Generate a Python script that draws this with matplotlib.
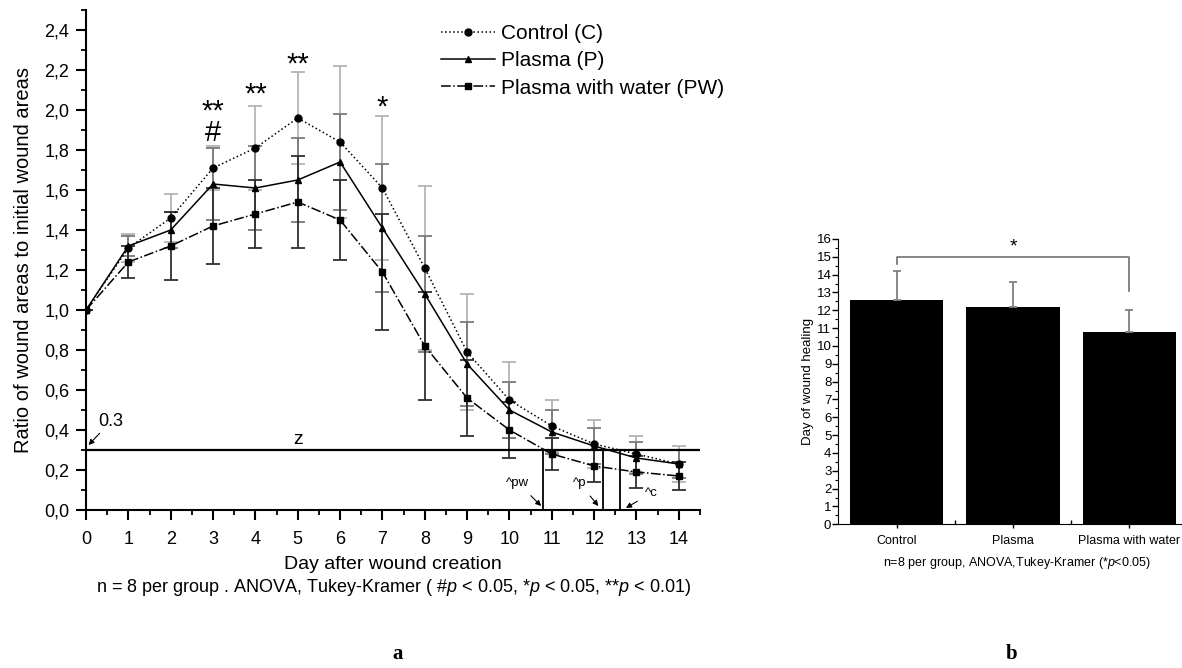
import matplotlib
matplotlib.use('Agg')
import matplotlib.pyplot as plt
from matplotlib.ticker import MultipleLocator, FuncFormatter, FixedLocator

plt.rcParams['font.family'] = ['Liberation Sans', 'DejaVu Sans']
plt.rcParams['mathtext.fontset'] = 'custom'
plt.rcParams['mathtext.it'] = 'Liberation Sans:italic'
plt.rcParams['mathtext.rm'] = 'Liberation Sans'

# ---------------- data ----------------
days = list(range(15))
control = [1.00, 1.31, 1.46, 1.71, 1.81, 1.96, 1.84, 1.61, 1.21, 0.79, 0.55, 0.42, 0.33, 0.28, 0.23]
control_err = [0, 0.07, 0.12, 0.11, 0.21, 0.23, 0.38, 0.36, 0.41, 0.29, 0.19, 0.13, 0.12, 0.09, 0.09]
plasma = [1.00, 1.32, 1.40, 1.63, 1.61, 1.65, 1.74, 1.41, 1.08, 0.73, 0.50, 0.39, 0.32, 0.26, 0.23]
plasma_err = [0, 0.05, 0.09, 0.18, 0.21, 0.21, 0.24, 0.32, 0.29, 0.21, 0.14, 0.11, 0.09, 0.08, 0.07]
pw = [1.00, 1.24, 1.32, 1.42, 1.48, 1.54, 1.45, 1.19, 0.82, 0.56, 0.40, 0.28, 0.22, 0.19, 0.17]
pw_err = [0, 0.08, 0.17, 0.19, 0.17, 0.23, 0.20, 0.29, 0.27, 0.19, 0.14, 0.08, 0.08, 0.08, 0.07]

threshold = 0.3
sig_days = [3, 4, 5, 7]
sig_labels = ['**\n#', '**', '**', '*']
sig_y = [2.0625, 2.1475, 2.2975, 2.0825]

groups = ['Control', 'Plasma', 'Plasma with water']
heal_days = [12.6, 12.2, 10.8]
heal_err = [1.6, 1.4, 1.2]
heal_tags = ['^c', '^p', '^pw']

# ---------------- figure ----------------
fig = plt.figure(figsize=(11.82, 6.68), dpi=100)

ax = fig.add_axes([86 / 1182, 1 - 510 / 668, 614 / 1182, 500 / 668])

series = [
    (control, control_err, ':', 'o', '#b4b4b4', 'Control (C)'),
    (plasma, plasma_err, '-', '^', '#7a7a7a', 'Plasma (P)'),
    (pw, pw_err, '-.', 's', '#303030', 'Plasma with water (PW)'),
]
handles = []
for vals, errs, ls, mk, ecol, lab in series:
    ax.errorbar(days, vals, yerr=errs, fmt='none', ecolor=ecol, elinewidth=1.3,
                capsize=5, capthick=1.3, zorder=2)
    h, = ax.plot(days, vals, linestyle=ls, marker=mk, color='black', lw=1.1,
                 markersize=5, zorder=3, label=lab)
    handles.append(h)

ax.set_xlim(0, 14.5)
ax.set_ylim(0, 2.5)
ax.xaxis.set_major_locator(MultipleLocator(1))
ax.xaxis.set_minor_locator(MultipleLocator(0.5))
ax.yaxis.set_major_locator(FixedLocator([0, 0.2, 0.4, 0.6, 0.8, 1.0, 1.2, 1.4, 1.6, 1.8, 2.0, 2.2, 2.4]))
ax.yaxis.set_minor_locator(MultipleLocator(0.1))
ax.yaxis.set_major_formatter(FuncFormatter(lambda v, p: f"{v:.1f}".replace('.', ',')))
for s in ['top', 'right']:
    ax.spines[s].set_visible(False)
for s in ['left', 'bottom']:
    ax.spines[s].set_linewidth(1.5)
ax.tick_params(which='major', length=7, width=1.5, labelsize=13, direction='out')
ax.tick_params(which='minor', length=3.5, width=1.3, direction='out')
ax.tick_params(axis='x', which='major', pad=8)
ax.tick_params(axis='y', which='major', pad=5)

ax.set_ylabel('Ratio of wound areas to initial wound areas', fontsize=14.5, labelpad=8)
ax.set_xlabel('Day after wound creation', fontsize=14, labelpad=6)

# threshold line
ax.axhline(threshold, xmin=0, xmax=1, color='black', lw=1.6, zorder=4)
ax.text(5, 0.35, 'z', fontsize=14, ha='center', va='center')
ax.annotate('0.3', xy=(0.06, 0.325), xytext=(0.28, 0.44), fontsize=13,
            ha='left', va='center',
            arrowprops=dict(arrowstyle='-|>', color='black', lw=0.8, mutation_scale=8,
                            shrinkA=0, shrinkB=0))

# healing day vertical lines and labels
for d in heal_days:
    ax.plot([d, d], [0, threshold], color='black', lw=1.3, zorder=4)
tag_pos = {'^pw': ((10.2, 0.135), (10.75, 0.02)),
           '^p': ((11.65, 0.135), (12.1, 0.02)),
           '^c': ((13.35, 0.085), (12.75, 0.01))}
for tag in heal_tags:
    txt, tip = tag_pos[tag]
    ax.annotate(tag, xy=tip, xytext=txt, fontsize=9.5, ha='center', va='center',
                arrowprops=dict(arrowstyle='-|>', color='black', lw=0.8, mutation_scale=8,
                                shrinkA=4, shrinkB=0))

# significance marks
for d, lab, yv in zip(sig_days, sig_labels, sig_y):
    ax.text(d, yv, lab, fontsize=21, ha='center', va='top', linespacing=0.69,
            multialignment='center')

fig.legend(handles=handles, loc='upper left', bbox_to_anchor=(441 / 1182, 1 - 24 / 668),
           frameon=False, fontsize=15, handlelength=2.6, handletextpad=0.3,
           labelspacing=0.4, numpoints=1, borderaxespad=0, borderpad=0)

fig.text(0.5 * (57 + 730) / 1182, 1 - 588 / 668,
         'n = 8 per group . ANOVA, Tukey-Kramer ( #$\\it{p}$ < 0.05, *$\\it{p}$ < 0.05, **$\\it{p}$ < 0.01)',
         fontsize=13, ha='center', va='center')

# ---------------- bar chart ----------------
ax2 = fig.add_axes([838.3 / 1182, 1 - 524.3 / 668, (1187.7 - 838.3) / 1182, 285.3 / 668])
xpos = list(range(len(groups)))
ax2.bar(xpos, heal_days, width=0.8, color='black', zorder=2)
ax2.errorbar(xpos, heal_days, yerr=[[0] * len(groups), heal_err], fmt='none',
             ecolor='#808080', elinewidth=1.3, capsize=3, capthick=1.3, zorder=3)
ax2.set_xlim(-0.5, 2.5)
ax2.set_ylim(0, 16)
ax2.yaxis.set_major_locator(MultipleLocator(1))
ax2.yaxis.set_minor_locator(MultipleLocator(0.5))
ax2.set_xticks(xpos)
ax2.set_xticklabels(groups, fontsize=9)
ax2.xaxis.set_minor_locator(FixedLocator([0.5, 1.5]))
for s in ['top', 'right']:
    ax2.spines[s].set_visible(False)
ax2.tick_params(axis='y', which='major', length=4, width=1, labelsize=9.5, pad=1)
ax2.tick_params(axis='y', which='minor', length=2, width=0.8)
ax2.tick_params(axis='x', which='major', length=3, width=1, pad=5)
ax2.tick_params(axis='x', which='minor', length=3, width=1, direction='in')
ax2.set_ylabel('Day of wound healing', fontsize=9.5, labelpad=2)

# significance bracket
ax2.plot([0, 0, 2, 2], [14.6, 15.0, 15.0, 13.1], color='#707070', lw=1.2, zorder=3)
ax2.text(1, 15.55, '*', fontsize=14, ha='center', va='center')

fig.text(1017 / 1182, 1 - 563 / 668, 'n=8 per group, ANOVA,Tukey-Kramer (*$\\it{p}$<0.05)',
         fontsize=9, ha='center', va='center')

# panel letters
fig.text(398 / 1182, 1 - 654 / 668, 'a', fontsize=15, fontweight='bold',
         family='Liberation Serif', ha='center', va='center')
fig.text(1012 / 1182, 1 - 654 / 668, 'b', fontsize=15, fontweight='bold',
         family='Liberation Serif', ha='center', va='center')

fig.savefig('out.png', dpi=100)
